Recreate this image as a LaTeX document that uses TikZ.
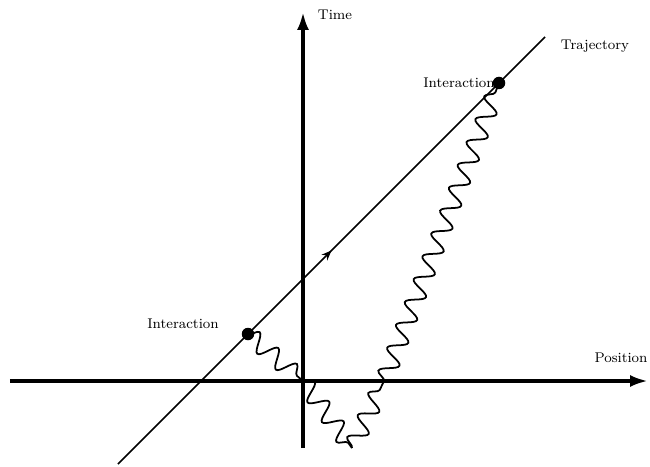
\documentclass[tikz,border=0pt]{standalone}
\usetikzlibrary{arrows.meta,decorations.pathmorphing,decorations.markings}
\begin{document}
\begin{tikzpicture}[font=\footnotesize,
		axis/.style={line width=2pt, -{Latex[length=3.6mm,width=2.4mm]}},
		traj/.style={line width=0.9pt, postaction={decorate},
			decoration={markings, mark=at position 0.5 with {\arrow{Stealth[length=2mm,width=1.6mm]}}}},
		photon/.style={line width=1pt, decorate,
			decoration={snake, segment length=4.9mm, amplitude=1.8mm}},
		event/.style={circle, fill=black, inner sep=0pt, minimum size=2.5mm}]
	\useasboundingbox (-6.06,-1.70) rectangle (6.94,7.62);
	
	% axes
	\coordinate (O) at (0,0);
	\coordinate (xmin) at (-5.86,0);
	\coordinate (xmax) at (6.90,0);
	\coordinate (ymin) at (0,-1.34);
	\coordinate (ymax) at (0,7.38);
	\draw[axis] (xmin) -- (xmax);
	\draw[axis] (ymin) -- (ymax);
	\node (Position) at (6.36,0.46) {Position};
	\node (Time) at (0.64,7.32) {Time};
	
	% trajectory
	\coordinate (Tstart) at (-3.70,-1.66);
	\coordinate (Tend) at (4.84,6.88);
	\draw[traj] (Tstart) -- (Tend);
	\node (Trajectory) at (5.84,6.70) {Trajectory};
	
	% interactions
	\node[event] (E1) at (-1.10,0.94) {};
	\node[event] (E2) at (3.92,5.96) {};
	\node (L1) at (-2.40,1.14) {Interaction};
	\node (L2) at (3.12,5.96) {Interaction};
	
	% signal
	\coordinate (B) at (0.98,-1.34);
	\coordinate (R) at (1.62,0);
	\draw[photon] (E1.center) -- (O);
	\draw[photon] (O) -- (B);
	\draw[photon] (B) -- (R);
	\draw[photon] (R) -- (E2.center);
\end{tikzpicture}
\end{document}
